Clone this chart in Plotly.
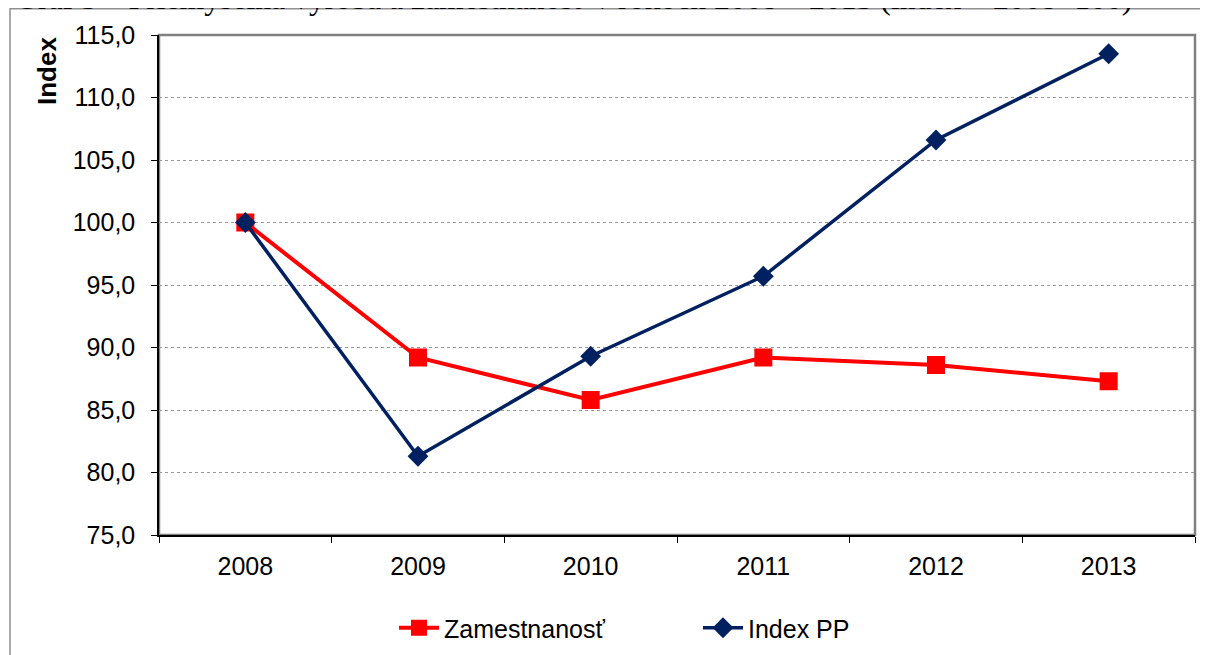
import plotly.graph_objects as go

years = ["2008", "2009", "2010", "2011", "2012", "2013"]
zamestnanost = [100.0, 89.2, 85.8, 89.2, 88.6, 87.3]
index_pp = [100.0, 81.3, 89.3, 95.7, 106.6, 113.5]
y_ticks = [75, 80, 85, 90, 95, 100, 105, 110, 115]

fig = go.Figure()
fig.add_trace(go.Scatter(
    x=years, y=zamestnanost, name="Zamestnanosť", mode="lines+markers",
    line=dict(color="#FF0000", width=4),
    marker=dict(symbol="square", size=18, color="#FF0000"),
))
fig.add_trace(go.Scatter(
    x=years, y=index_pp, name="Index PP", mode="lines+markers",
    line=dict(color="#002060", width=3.5),
    marker=dict(symbol="diamond", size=16, color="#002060"),
))

# the page places the figure at (8, 8) because of the default body margin
OFF = 8
PL, PT, PW, PH = 159, 35, 1036, 500  # plot area in page pixels
W, H = 1200, 700


def px(x):
    return (x - PL) / PW


def py(y):
    return (PT + PH - y) / PH


fig.update_layout(
    width=W, height=H,
    margin=dict(l=PL - OFF, r=W - (PL - OFF) - PW, t=PT - OFF, b=H - (PT - OFF) - PH),
    paper_bgcolor="white", plot_bgcolor="white",
    separators=", ",
    font=dict(family="Liberation Sans, Arial", size=25, color="black"),
    showlegend=True,
    legend=dict(orientation="h", x=px(394), xanchor="left", y=py(628), yanchor="middle",
                font=dict(size=25), itemwidth=40, entrywidth=249),
    shapes=[
        dict(type="rect", xref="paper", yref="paper", x0=px(10), x1=1.05, y0=-0.5, y1=py(8.75),
             line=dict(color="#909090", width=1.5), layer="below"),
        dict(type="rect", xref="paper", yref="paper", x0=0, x1=1, y0=0, y1=1,
             line=dict(color="#808080", width=2.5), layer="below"),
    ],
    annotations=[
        dict(text="Graf 3 – Priemyselná výroba a zamestnanosť v rokoch 2008 – 2013 (index – 2008=100)",
             xref="paper", yref="paper", x=px(13), y=py(18), xanchor="left", yanchor="bottom",
             showarrow=False, font=dict(family="Liberation Serif, Times New Roman", size=31.7, color="black")),
        dict(text="<b>Index</b>", xref="paper", yref="paper", x=px(47), y=py(71),
             xanchor="center", yanchor="middle", textangle=-90, showarrow=False,
             font=dict(size=26, color="black")),
    ],
)
fig.update_xaxes(
    type="category", range=[-0.5, 5.5], showline=True, linecolor="black", linewidth=1.5,
    ticks="outside", tickson="boundaries", ticklen=6, tickcolor="black", showgrid=False,
    tickfont=dict(size=25), ticklabelstandoff=8, automargin=False,
)
fig.update_yaxes(
    range=[75, 115], tickvals=y_ticks, tickformat=".1f", showline=True, linecolor="black",
    linewidth=1.5, ticks="outside", ticklen=6, tickcolor="black",
    showgrid=True, gridcolor="#999999", griddash="dot", gridwidth=1, zeroline=False,
    tickfont=dict(size=25), ticklabelstandoff=11, automargin=False,
)
fig.write_html("out.html")
